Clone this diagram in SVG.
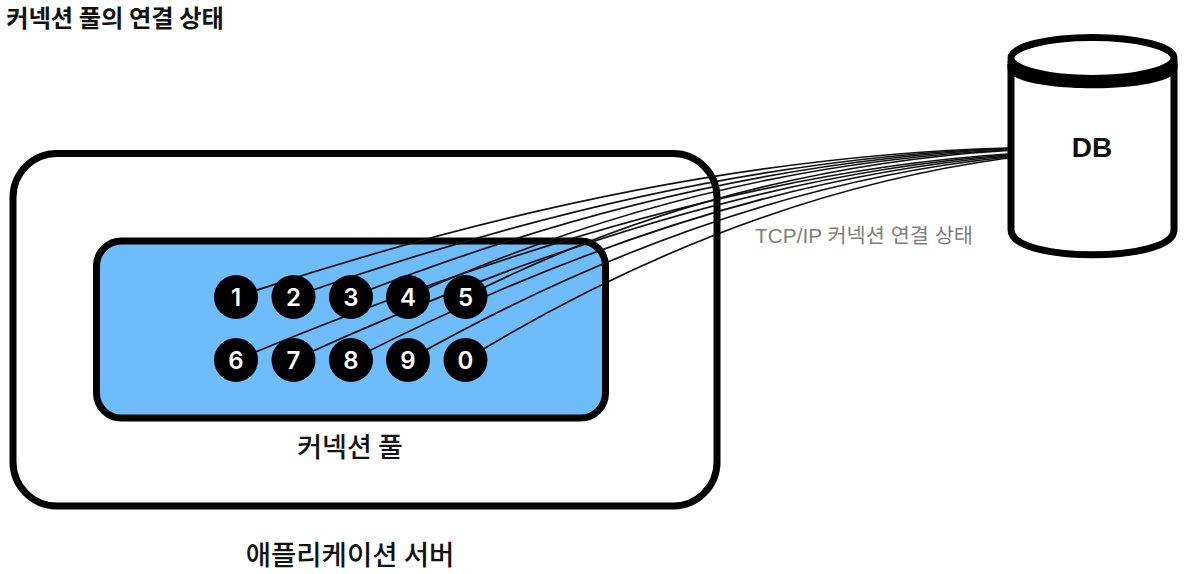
<svg xmlns="http://www.w3.org/2000/svg" width="1186" height="574" viewBox="0 0 1186 574">
<style>
text{font-family:"Liberation Sans","Noto Sans CJK KR",sans-serif}
.k{font-family:"Noto Sans CJK KR","Liberation Sans",sans-serif;text-anchor:middle;fill:#111}
.box{stroke:#000;stroke-width:7}
.c{fill:#000}
.n{fill:#fff;font-family:Inter,"Liberation Sans",sans-serif;font-size:24px;font-weight:600;text-anchor:middle}
#connectors path{fill:none;stroke:#111;stroke-width:1.7}
</style>
<rect width="1186" height="574" fill="#fff"/>
<text id="title" class="k" x="115" y="26.500" font-size="24.300" font-weight="700" fill="#000">커넥션 풀의 연결 상태</text>
<g id="app-server"><rect class="box" x="13" y="153.500" width="704" height="352.500" rx="44" fill="#fff"/>
<text class="k" x="350" y="564.500" font-size="27.500" font-weight="500">애플리케이션 서버</text></g>
<g id="pool"><rect class="box" x="96.500" y="241" width="509" height="177" rx="25" fill="#6fbcfb"/>
<text class="k" x="350" y="457" font-size="27" font-weight="500">커넥션 풀</text></g>
<g id="connectors">
<path d="M236,297 Q650,158 1008,148"/>
<path d="M293,297 Q680,160 1008,148.500"/>
<path d="M351,297 Q690,163 1008,149"/>
<path d="M408,297 Q700,165 1008,150"/>
<path d="M465,297 Q720,168 1008,150.500"/>
<path d="M236,360 Q680,175 1008,154"/>
<path d="M293,360 Q690,178 1008,155"/>
<path d="M351,360 Q700,182 1008,156"/>
<path d="M408,360 Q715,187 1008,157"/>
<path d="M465,360 Q735,195 1008,158"/>
</g>
<g id="n1"><circle class="c" cx="236" cy="297" r="22"/><text class="n" x="236" y="306">1</text></g>
<g id="n2"><circle class="c" cx="293.500" cy="297" r="22"/><text class="n" x="293.500" y="306">2</text></g>
<g id="n3"><circle class="c" cx="351" cy="297" r="22"/><text class="n" x="351" y="306">3</text></g>
<g id="n4"><circle class="c" cx="408" cy="297" r="22"/><text class="n" x="408" y="306">4</text></g>
<g id="n5"><circle class="c" cx="465.500" cy="297" r="22"/><text class="n" x="465.500" y="306">5</text></g>
<g id="n6"><circle class="c" cx="236" cy="360" r="22"/><text class="n" x="236" y="369">6</text></g>
<g id="n7"><circle class="c" cx="293.500" cy="360" r="22"/><text class="n" x="293.500" y="369">7</text></g>
<g id="n8"><circle class="c" cx="351" cy="360" r="22"/><text class="n" x="351" y="369">8</text></g>
<g id="n9"><circle class="c" cx="408" cy="360" r="22"/><text class="n" x="408" y="369">9</text></g>
<g id="n0"><circle class="c" cx="465.500" cy="360" r="22"/><text class="n" x="465.500" y="369">0</text></g>
<text id="conn-label" x="864" y="243" font-size="20.800" fill="#7f7f7f" text-anchor="middle">TCP/IP 커넥션 연결 상태</text>
<g id="db">
<path d="M1011,64 V230 C1011,263 1174,263 1174,230 V64" fill="#fff" stroke="#000" stroke-width="7"/>
<path d="M1007.500,60 V68 C1007.500,95 1177.500,95 1177.500,68 V60 Z" fill="#000"/>
<ellipse cx="1092.500" cy="58" rx="81.500" ry="20.500" fill="#fff" stroke="#000" stroke-width="7"/>
<text x="1092" y="157" font-size="28" font-weight="700" text-anchor="middle" fill="#111">DB</text>
</g>
</svg>
